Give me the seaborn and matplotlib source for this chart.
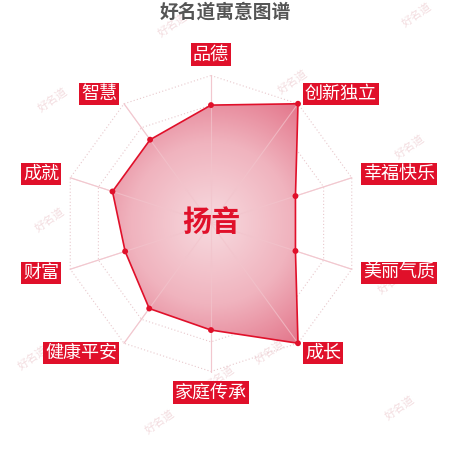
import numpy as np
import matplotlib
matplotlib.use("Agg")
import matplotlib.pyplot as plt
from matplotlib.patches import Polygon
from matplotlib.colors import LinearSegmentedColormap
import seaborn as sns

sns.set_theme(style="white")
plt.rcParams['font.family'] = ['Noto Sans CJK SC', 'DejaVu Sans']

title = "好名道寓意图谱"
name = "扬音"
categories = ["品德", "创新独立", "幸福快乐", "美丽气质", "成长",
              "家庭传承", "健康平安", "财富", "成就", "智慧"]
values = [80, 100, 60, 60, 100, 72, 71, 61, 70, 70]
max_value = 100

red = "#e0102a"
n = len(categories)
angles = np.arange(n) * 2 * np.pi / n  # clockwise from top
r = np.array(values) / max_value
xs = r * np.sin(angles)
ys = r * np.cos(angles)

R = 148  # px of full radius
cx, cy = 211, 223.5
fig = plt.figure(figsize=(4.5, 4.5), dpi=100)
ax = fig.add_axes([0, 0, 1, 1])
ax.set_xlim(-cx / R, (450 - cx) / R)
ax.set_ylim(-(450 - cy) / R, cy / R)
ax.axis("off")

# watermarks
wm = [(173, 25), (417, 15), (53, 100), (293, 82), (410, 147), (50, 220),
      (33, 358), (160, 422), (270, 352), (400, 408), (393, 282), (220, 378)]
for px, py in wm:
    ax.text((px - cx) / R, (cy - py) / R, "好名道", fontsize=8, color="#f3dde0",
            rotation=35, ha="center", va="center", zorder=0)

# grid rings
for lvl in [0.2, 0.4, 0.6, 0.8, 1.0]:
    gx = np.append(lvl * np.sin(angles), lvl * np.sin(angles[0]))
    gy = np.append(lvl * np.cos(angles), lvl * np.cos(angles[0]))
    ax.plot(gx, gy, ls=(0, (1, 2)), color="#e8c8cc", lw=0.8, zorder=1)
for a in angles:
    ax.plot([0, np.sin(a)], [0, np.cos(a)], color="#f3d0d6", lw=0.8, zorder=1)

# gradient fill
poly = Polygon(np.column_stack([xs, ys]), closed=True, fc="none", ec="none")
ax.add_patch(poly)
g = np.linspace(-1.05, 1.05, 300)
gxx, gyy = np.meshgrid(g, g)
dist = np.sqrt(gxx ** 2 + gyy ** 2)
cmap = LinearSegmentedColormap.from_list("pk", ["#f6d3d9", "#f0b3be", "#e3758a"])
im = ax.imshow(dist, extent=(-1.05, 1.05, -1.05, 1.05), origin="lower",
               cmap=cmap, vmin=0.1, vmax=1.0, zorder=2, interpolation="bilinear")
im.set_clip_path(poly)
for a in angles:
    ax.plot([0, np.sin(a)], [0, np.cos(a)], color="#f2c4cc", lw=0.8, alpha=0.7, zorder=3)

sns.lineplot(x=np.append(xs, xs[0]), y=np.append(ys, ys[0]), sort=False,
             estimator=None, color=red, lw=1.2, ax=ax, zorder=4)
sns.scatterplot(x=xs, y=ys, color=red, s=18, edgecolor="none", ax=ax, zorder=5)

# labels
for lab, a in zip(categories, angles):
    lx, ly = 1.08 * np.sin(a), 1.08 * np.cos(a)
    s = np.sin(a)
    if abs(s) < 0.01:
        ha = "center"
        va = "bottom" if np.cos(a) > 0 else "top"
    else:
        ha = "left" if s > 0 else "right"
        va = "center"
    ax.text(lx, ly, lab, fontsize=13, color="white", ha=ha, va=va, zorder=6,
            bbox=dict(boxstyle="square,pad=0.12", fc=red, ec="none"))

ax.text(0, 0.01, name, fontsize=21, fontweight="bold", color=red,
        ha="center", va="center", zorder=6)
ax.text((225 - cx) / R, (cy - 12) / R, title, fontsize=13.5, fontweight="bold",
        color="#555555", ha="center", va="center", zorder=6)

fig.savefig("out.png", dpi=100)
